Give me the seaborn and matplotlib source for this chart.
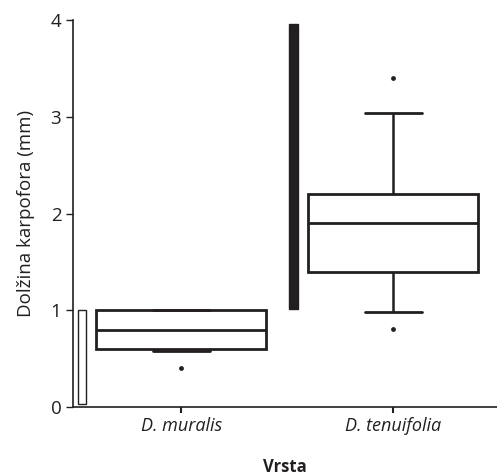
import pandas as pd
import seaborn as sns
import matplotlib.pyplot as plt

# species (x categories)
species = ["D. muralis", "D. tenuifolia"]

# box summary (10th/90th pct whiskers)
whisker_low = [0.58, 0.98]
q1 = [0.60, 1.40]
median = [0.80, 1.90]
q3 = [1.00, 2.20]
whisker_high = [1.00, 3.04]

# single points beyond the whiskers
outlier_species = ["D. muralis", "D. tenuifolia", "D. tenuifolia"]
outlier_values = [0.40, 0.81, 3.40]

# range bars next to each box (low, high)
range_low = [0.03, 1.01]
range_high = [1.00, 3.96]
range_colors = ["white", "#231f20"]

ink = "#231f20"

rows = []
for i, s in enumerate(species):
    for v in [whisker_low[i], q1[i], median[i], q3[i], whisker_high[i]]:
        rows.append({"Vrsta": s, "value": v})
df = pd.DataFrame(rows)
out_df = pd.DataFrame({"Vrsta": outlier_species, "value": outlier_values})

sns.set_theme(style="ticks")
plt.rcParams["font.family"] = ["Open Sans", "DejaVu Sans"]

fig = plt.figure(figsize=(4.97, 4.75), dpi=100)
ax = fig.add_axes([0.147, 0.143, 0.853, 0.815])

sns.boxplot(data=df, x="Vrsta", y="value", order=species, whis=(0, 100),
            width=0.8, color="white", linecolor=ink, linewidth=2,
            capwidths=0.27, ax=ax,
            whiskerprops={"linewidth": 1.8},
            capprops={"linewidth": 2.0})
sns.scatterplot(data=out_df, x="Vrsta", y="value", color=ink, s=12,
                edgecolor=ink, linewidth=0, ax=ax, zorder=5)

# range bars
for i in range(len(species)):
    ax.bar(i - 0.47, range_high[i] - range_low[i], bottom=range_low[i],
           width=0.038, color=range_colors[i], edgecolor=ink, linewidth=1.0,
           zorder=4)

ax.set_xlim(-0.51, 1.49)
ax.set_ylim(0, 4)
ax.set_yticks([0, 1, 2, 3, 4])
ax.set_xticks([0, 1])
ax.set_xticklabels(species, fontstyle="italic", fontsize=13, color=ink)
ax.tick_params(axis="y", labelsize=13.5, colors=ink, length=5, width=1)
ax.tick_params(axis="x", length=4, width=1.5, colors=ink, pad=3)
for lab in ax.get_yticklabels():
    lab.set_color(ink)

ax.set_xlabel("Vrsta", fontsize=12, fontweight="bold", color=ink, labelpad=17)
ax.set_ylabel("Dolžina karpofora (mm)", fontsize=13.5, color=ink, labelpad=11)

sns.despine(ax=ax)
for sp in ["left", "bottom"]:
    ax.spines[sp].set_color(ink)
    ax.spines[sp].set_linewidth(1.2)

fig.savefig("out.png", dpi=100)
